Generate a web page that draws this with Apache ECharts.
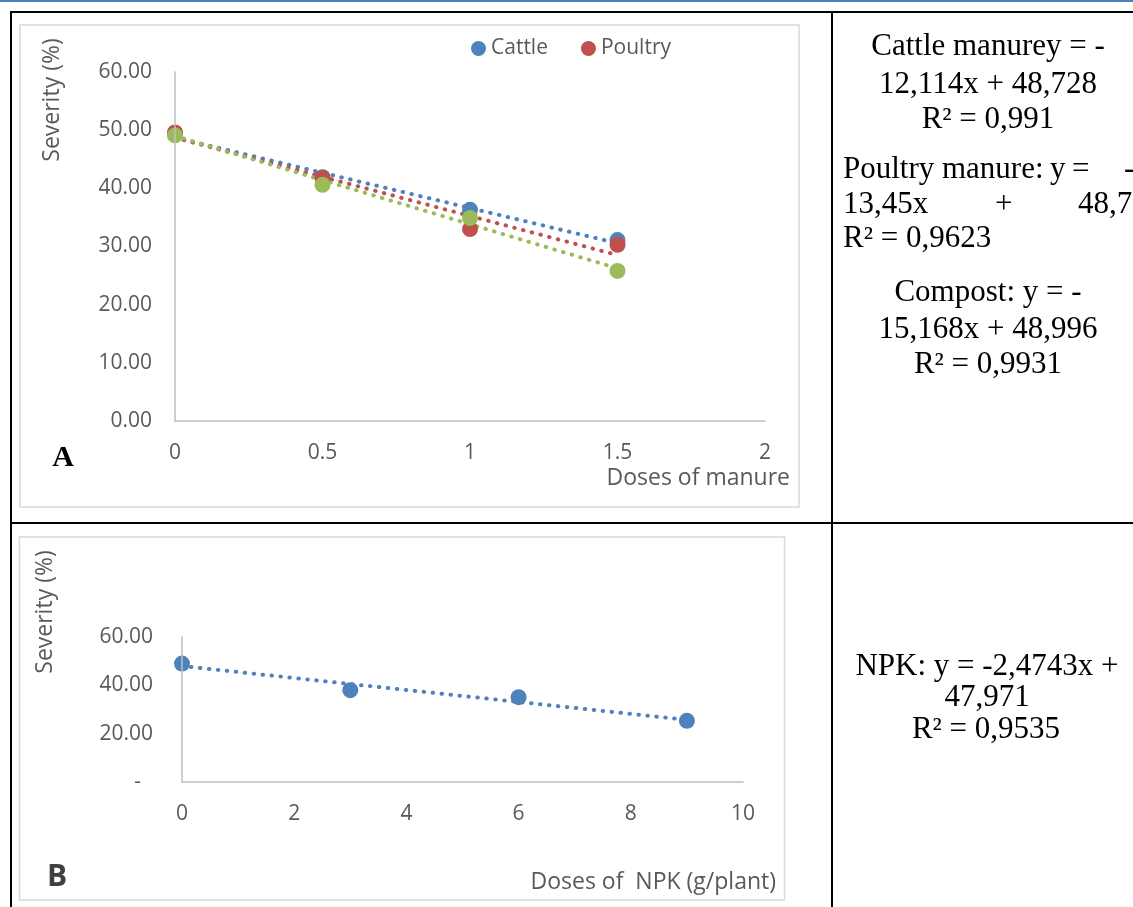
<!DOCTYPE html>
<html>
<head>
<meta charset="utf-8">
<script src="https://cdn.jsdelivr.net/npm/echarts@6/dist/echarts.min.js"></script>
<style>
  html, body { margin: 0; padding: 0; background: #fff; }
  #main { width: 1133px; height: 907px; }
</style>
</head>
<body>
<div id="main"></div>
<script>
// panel A: severity vs manure dose
const manureDoses = [0, 0.5, 1, 1.5];
const cattle = [49.4, 41.9, 36.3, 31.1];
const poultry = [49.6, 41.8, 33.0, 30.3];
const compost = [49.1, 40.6, 34.9, 25.8];
const manureNames = ['Cattle', 'Poultry', 'Compost'];
const manureSlopes = [-12.114, -13.45, -15.168];
const manureIntercepts = [48.728, 48.7, 48.996];
const manureXTicks = [0, 0.5, 1, 1.5, 2];
const manureYTicks = [0, 10, 20, 30, 40, 50, 60];

// panel B: severity vs NPK dose
const npkDoses = [0, 3, 6, 9];
const npk = [49.0, 38.0, 35.1, 25.3];
const npkSlope = -2.4743;
const npkIntercept = 47.971;
const npkXTicks = [0, 2, 4, 6, 8, 10];
const npkYTicks = [0, 20, 40, 60];

// equation cells
const cattleEq = ['Cattle manurey = -', '12,114x + 48,728', 'R² = 0,991'];
const poultryEq = [['Poultry', 'manure:', 'y', '=', '-'], ['13,45x', '+', '48,7'], ['R² = 0,9623']];
const compostEq = ['Compost: y = -', '15,168x + 48,996', 'R² = 0,9931'];
const npkEq = ['NPK: y = -2,4743x +', '47,971', 'R² = 0,9535'];

const colors = ['#4f81bd', '#c0504d', '#9bbb59'];
const tickColor = '#595959';
const axisColor = '#bfbfbf';
const sans = '"Open Sans", "Noto Sans", sans-serif';
const serif = '"Liberation Serif", "Times New Roman", serif';

const chart = echarts.init(document.getElementById('main'), null, { renderer: 'canvas' });

function trend(xs, slope, intercept) {
    const x0 = xs[0], x1 = xs[xs.length - 1];
    return [[x0, intercept + slope * x0], [x1, intercept + slope * x1]];
}

function pairs(xs, ys) {
    return xs.map((x, i) => [x, ys[i]]);
}

function axisBase(gridIndex) {
    return {
        gridIndex: gridIndex,
        type: 'value',
        z: 5,
        axisLine: { show: true, lineStyle: { color: axisColor, width: 1.5 } },
        axisTick: { show: false },
        splitLine: { show: false }
    };
}

function eqText(x, y, text, align) {
    return {
        type: 'text', x: x, y: y, z: 10,
        style: {
            text: text, font: '31px ' + serif, fill: '#000',
            textAlign: align || 'center', textVerticalAlign: 'middle'
        }
    };
}

function sansText(x, y, text, opts) {
    return Object.assign({
        type: 'text', x: x, y: y, z: 10,
        style: Object.assign({
            text: text, font: '23px ' + sans, fill: tickColor,
            textAlign: 'center', textVerticalAlign: 'middle'
        }, opts && opts.style)
    }, opts && opts.el);
}

function hline(x1, x2, y, color, w) {
    return { type: 'line', z: 5, shape: { x1: x1, y1: y, x2: x2, y2: y }, style: { stroke: color, lineWidth: w } };
}
function vline(x, y1, y2, color, w) {
    return { type: 'line', z: 5, shape: { x1: x, y1: y1, x2: x, y2: y2 }, style: { stroke: color, lineWidth: w } };
}

const manureSeries = [cattle, poultry, compost];
const dotted = { width: 4, type: [0.5, 8.5], cap: 'round' };
const series = [];

// trendlines for panel A
manureSeries.forEach((vals, i) => {
    series.push({
        name: manureNames[i] + ' trend', type: 'line', xAxisIndex: 0, yAxisIndex: 0,
        data: trend(manureDoses, manureSlopes[i], manureIntercepts[i]),
        symbol: 'none', silent: true, z: 2,
        lineStyle: Object.assign({ color: colors[i] }, dotted)
    });
});
// markers for panel A
manureSeries.forEach((vals, i) => {
    series.push({
        name: manureNames[i], type: 'scatter', xAxisIndex: 0, yAxisIndex: 0,
        data: pairs(manureDoses, vals), symbolSize: 16, z: 3,
        itemStyle: { color: colors[i], opacity: 1 }
    });
});
// panel B
series.push({
    name: 'NPK trend', type: 'line', xAxisIndex: 1, yAxisIndex: 1,
    data: trend(npkDoses, npkSlope, npkIntercept),
    symbol: 'none', silent: true, z: 2,
    lineStyle: Object.assign({ color: colors[0] }, dotted)
});
series.push({
    name: 'NPK', type: 'scatter', xAxisIndex: 1, yAxisIndex: 1,
    data: pairs(npkDoses, npk), symbolSize: 16, z: 3,
    itemStyle: { color: colors[0], opacity: 1 }
});

// justified paragraph: words placed one by one
const poultryX = [[843, 942, 1050, 1072, 1124], [843, 995, 1078], [843]];
const poultryY = [170, 205, 239];
const poultryTexts = [];
poultryEq.forEach((words, r) => {
    words.forEach((w, k) => poultryTexts.push(eqText(poultryX[r][k], poultryY[r], w, 'left')));
});

const graphic = [
    // page rule and table lines
    hline(0, 1133, 1, '#4f81bd', 2),
    hline(10, 1133, 12, '#000', 2),
    hline(10, 1133, 523, '#000', 2),
    vline(11, 11, 907, '#000', 2),
    vline(832, 11, 907, '#000', 2),
    // chart frames
    { type: 'rect', z: 1, shape: { x: 20, y: 25, width: 779, height: 482 },
      style: { fill: 'none', stroke: '#d9d9d9', lineWidth: 1.5 } },
    { type: 'rect', z: 1, shape: { x: 19.5, y: 537, width: 765, height: 363 },
      style: { fill: 'none', stroke: '#d9d9d9', lineWidth: 1.5 } },
    // axis titles
    sansText(52, 100, 'Severity (%)', { el: { rotation: Math.PI / 2 } }),
    sansText(790, 478, 'Doses of manure', { style: { textAlign: 'right' } }),
    sansText(45, 612, 'Severity (%)', { el: { rotation: Math.PI / 2 } }),
    sansText(776, 882, 'Doses of  NPK (g/plant)', { style: { textAlign: 'right' } }),
    // panel letters
    { type: 'text', x: 63, y: 458, z: 10,
      style: { text: 'A', font: 'bold 30px ' + serif, fill: '#000', textAlign: 'center', textVerticalAlign: 'middle' } },
    { type: 'text', x: 57, y: 877, z: 10,
      style: { text: 'B', font: 'bold 30px ' + sans, fill: '#404040', textAlign: 'center', textVerticalAlign: 'middle' } },
    // equations, top cell
    eqText(988, 47, cattleEq[0]),
    eqText(988, 85, cattleEq[1]),
    eqText(988, 120, cattleEq[2]),
    ...poultryTexts,
    eqText(988, 293, compostEq[0]),
    eqText(988, 330, compostEq[1]),
    eqText(988, 365, compostEq[2]),
    // equations, bottom cell
    eqText(987, 667, npkEq[0]),
    eqText(987, 698, npkEq[1]),
    eqText(986, 730, npkEq[2])
];

const option = {
    animation: false,
    backgroundColor: '#fff',
    legend: {
        data: ['Cattle', 'Poultry'],
        left: 466, top: 33,
        icon: 'circle', itemWidth: 15, itemHeight: 15, itemGap: 33,
        textStyle: { color: tickColor, fontFamily: sans, fontSize: 21 }
    },
    grid: [
        { left: 175, top: 72, width: 590, height: 349 },
        { left: 182, top: 637, width: 561, height: 145 }
    ],
    xAxis: [
        Object.assign(axisBase(0), {
            min: manureXTicks[0], max: manureXTicks[manureXTicks.length - 1], interval: 0.5,
            axisLabel: { color: tickColor, fontFamily: sans, fontSize: 21, margin: 22 }
        }),
        Object.assign(axisBase(1), {
            min: npkXTicks[0], max: npkXTicks[npkXTicks.length - 1], interval: 2,
            axisLabel: { color: tickColor, fontFamily: sans, fontSize: 21, margin: 22 }
        })
    ],
    yAxis: [
        Object.assign(axisBase(0), {
            min: manureYTicks[0], max: manureYTicks[manureYTicks.length - 1], interval: 10,
            axisLabel: { color: tickColor, fontFamily: sans, fontSize: 21, margin: 23,
                formatter: v => v.toFixed(2) }
        }),
        Object.assign(axisBase(1), {
            min: npkYTicks[0], max: npkYTicks[npkYTicks.length - 1], interval: 20,
            axisLabel: { color: tickColor, fontFamily: sans, fontSize: 21, margin: 29,
                formatter: v => v === 0 ? '{d|-}' : v.toFixed(2),
                rich: { d: { color: tickColor, fontFamily: sans, fontSize: 21, padding: [0, 12, 0, 0] } } }
        })
    ],
    graphic: graphic,
    series: series
};

chart.setOption(option);
</script>
</body>
</html>
